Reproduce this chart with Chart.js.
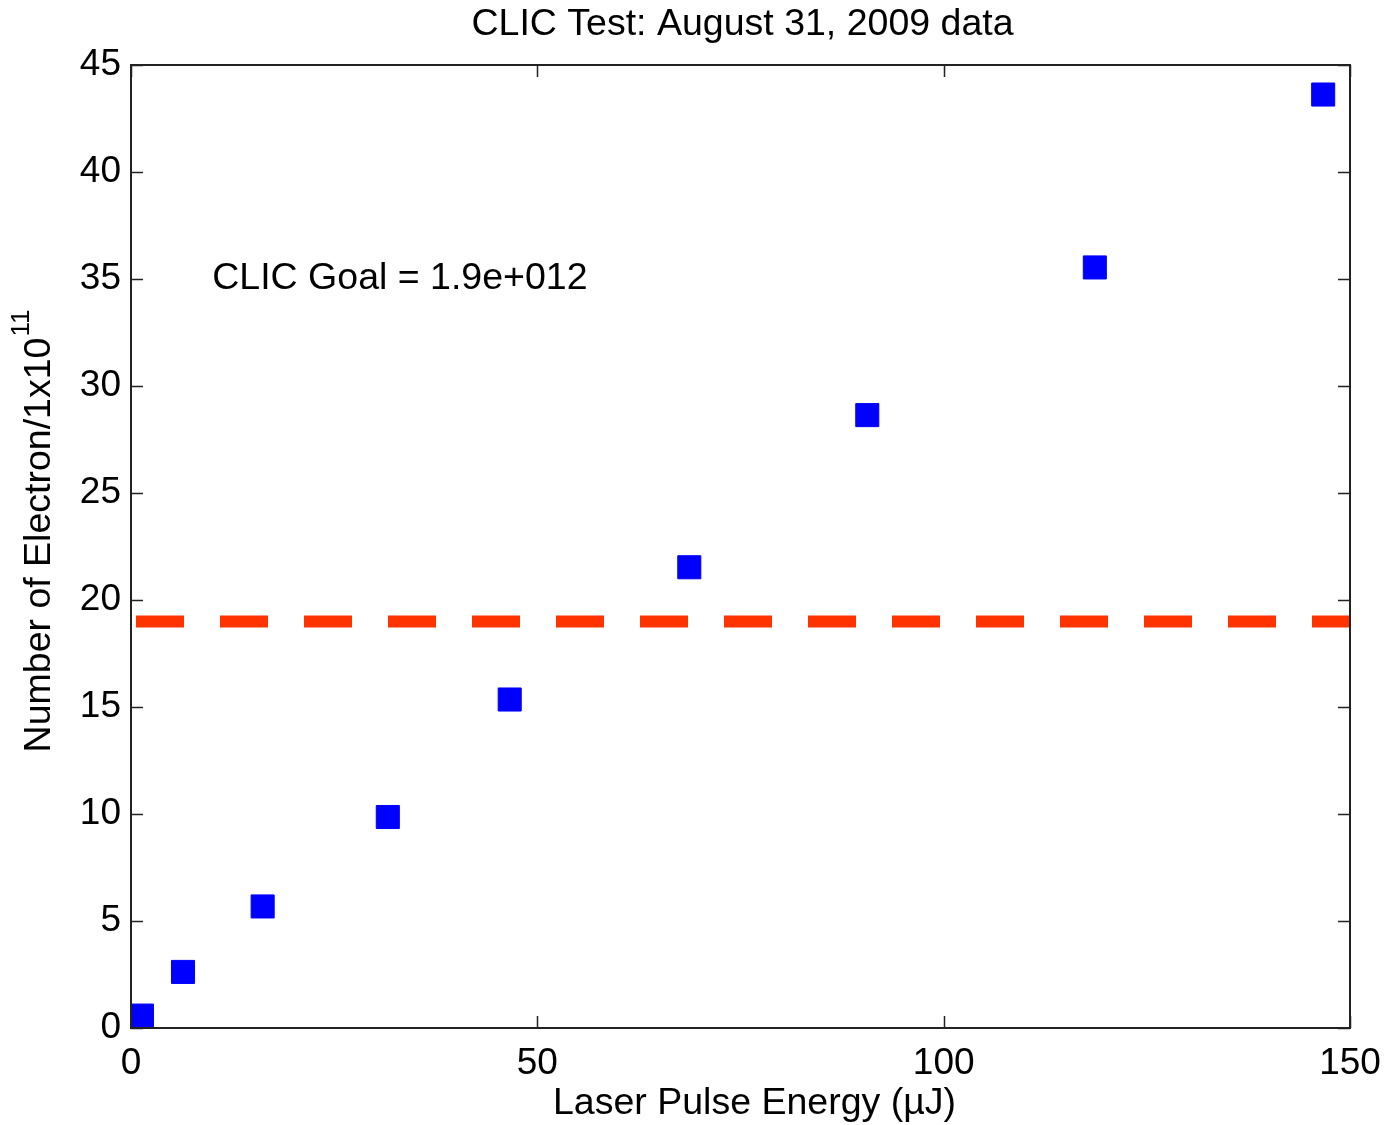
<!DOCTYPE html>
<html>
<head>
<meta charset="utf-8">
<title>CLIC Test: August 31, 2009 data</title>
<script src="https://cdn.jsdelivr.net/npm/chart.js@4.4.1/dist/chart.umd.min.js"></script>
<style>
  html, body { margin: 0; padding: 0; background: #fff; }
  canvas { display: block; }
</style>
</head>
<body>
<canvas id="chart" width="1387" height="1125"></canvas>
<script>
// laser pulse energy (uJ) and electrons per shot (units of 1e11)
const energy = [1.35, 6.4, 16.2, 31.6, 46.6, 68.7, 90.6, 118.6, 146.7];
const electrons = [0.58, 2.62, 5.68, 9.86, 15.35, 21.53, 28.64, 35.54, 43.62];

// CLIC goal, 1.9e12 electrons
const goal = 19;
const goalLabel = "CLIC Goal = 1.9e+012";
const goalLabelAt = [10, 35];

const xTicks = [0, 50, 100, 150];
const yTicks = [0, 5, 10, 15, 20, 25, 30, 35, 40, 45];

const FONT = "'Liberation Sans', Arial, sans-serif";
const TEXT_SIZE = 37.5;

// MATLAB style box: frame plus inward ticks on all four sides
const frameTicks = {
    id: "frameTicks",
    afterDatasetsDraw(chart) {
        const { ctx, chartArea: a, scales: { x, y } } = chart;
        const len = 12;
        ctx.save();
        ctx.strokeStyle = "#222";
        ctx.lineWidth = 1.5;
        ctx.beginPath();
        xTicks.forEach(v => {
            const px = Math.round(x.getPixelForValue(v)) + 0.5;
            ctx.moveTo(px, a.bottom); ctx.lineTo(px, a.bottom - len);
            ctx.moveTo(px, a.top); ctx.lineTo(px, a.top + len);
        });
        yTicks.forEach(v => {
            const py = Math.round(y.getPixelForValue(v)) + 0.5;
            ctx.moveTo(a.left, py); ctx.lineTo(a.left + len, py);
            ctx.moveTo(a.right, py); ctx.lineTo(a.right - len, py);
        });
        ctx.stroke();
        ctx.lineWidth = 2;
        ctx.strokeRect(a.left, a.top, a.right - a.left, a.bottom - a.top);
        ctx.restore();
    }
};

// title, axis labels and the goal annotation
const labels = {
    id: "labels",
    afterDraw(chart) {
        const { ctx, chartArea: a, scales: { x, y } } = chart;
        const cx = (a.left + a.right) / 2;
        const big = TEXT_SIZE + "px " + FONT;
        const small = "26px " + FONT;
        ctx.save();
        ctx.fillStyle = "#000";

        ctx.font = big;
        ctx.textAlign = "center";
        ctx.textBaseline = "middle";
        ctx.fillText("CLIC Test: August 31, 2009 data", cx + 2, 25);

        ctx.fillText("Laser Pulse Energy (\u00b5J)", cx + 14, 1104);

        ctx.textAlign = "left";
        ctx.fillText(goalLabel, x.getPixelForValue(goalLabelAt[0]), y.getPixelForValue(goalLabelAt[1]));

        // rotated y label with superscript exponent
        const main = "Number of Electron/1x10";
        const sup = "11";
        ctx.font = big;
        const wMain = ctx.measureText(main).width;
        ctx.font = small;
        const wSup = ctx.measureText(sup).width;
        ctx.translate(40, (a.top + a.bottom) / 2 - 15);
        ctx.rotate(-Math.PI / 2);
        const start = -(wMain + wSup) / 2;
        ctx.font = big;
        ctx.fillText(main, start, 0);
        ctx.font = small;
        ctx.fillText(sup, start + wMain + 1, -18);
        ctx.restore();
    }
};

new Chart(document.getElementById("chart"), {
    type: "scatter",
    data: {
        datasets: [
            {
                data: energy.map((e, i) => ({ x: e, y: electrons[i] })),
                pointStyle: "rect",
                pointRadius: 16.3,
                pointHoverRadius: 16.3,
                borderWidth: 1,
                backgroundColor: "#0000ff",
                borderColor: "#0000ff"
            },
            {
                type: "line",
                data: [{ x: xTicks[0], y: goal }, { x: xTicks[xTicks.length - 1], y: goal }],
                borderColor: "#ff3300",
                borderWidth: 12,
                borderDash: [48, 36],
                borderDashOffset: 79,
                borderCapStyle: "butt",
                pointRadius: 0,
                fill: false
            }
        ]
    },
    options: {
        responsive: false,
        animation: false,
        events: [],
        layout: { padding: { top: 65, right: 37, bottom: 0, left: 0 } },
        plugins: {
            legend: { display: false },
            tooltip: { enabled: false }
        },
        scales: {
            x: {
                type: "linear",
                min: 0,
                max: 150,
                afterBuildTicks: s => { s.ticks = xTicks.map(v => ({ value: v })); },
                afterFit: s => {
                    s.height = 97;
                    s.paddingLeft = 0;
                    s.paddingRight = 0;
                },
                grid: { display: false, drawTicks: false },
                border: { display: false },
                ticks: {
                    color: "#000",
                    padding: 14,
                    font: { family: FONT, size: 37 },
                    maxRotation: 0
                }
            },
            y: {
                type: "linear",
                min: 0,
                max: 45,
                afterBuildTicks: s => { s.ticks = yTicks.map(v => ({ value: v })); },
                afterFit: s => {
                    s.width = 131;
                    s.paddingTop = 0;
                    s.paddingBottom = 0;
                },
                grid: { display: false, drawTicks: false },
                border: { display: false },
                ticks: {
                    color: "#000",
                    padding: 10,
                    font: { family: FONT, size: 37 }
                }
            }
        }
    },
    plugins: [frameTicks, labels]
});
</script>
</body>
</html>
